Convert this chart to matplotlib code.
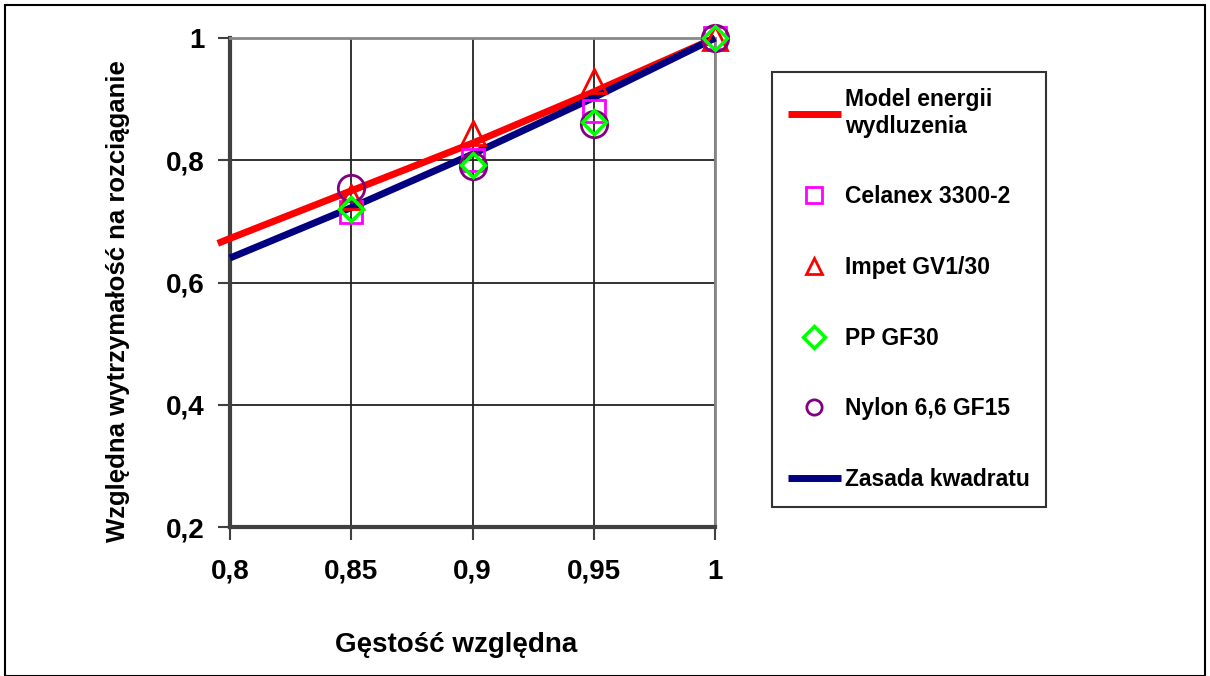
import matplotlib
matplotlib.use("Agg")
import matplotlib.pyplot as plt
from matplotlib.patches import Rectangle

# Data
density = [0.85, 0.9, 0.95, 1.0]
model_x = [0.795, 0.8, 0.85, 0.9, 0.95, 1.0]
model_y = [0.664, 0.672, 0.750, 0.828, 0.912, 1.0]
square_x = [0.8, 0.85, 0.9, 0.95, 1.0]
square_y = [x ** 2 for x in square_x]
celanex = [0.715, 0.800, 0.880, 1.0]
impet = [0.740, 0.845, 0.930, 1.0]
pp_gf30 = [0.720, 0.792, 0.863, 1.0]
nylon = [0.755, 0.790, 0.860, 1.0]

xticks = [0.8, 0.85, 0.9, 0.95, 1.0]
xtick_labels = ["0,8", "0,85", "0,9", "0,95", "1"]
yticks = [0.2, 0.4, 0.6, 0.8, 1.0]
ytick_labels = ["0,2", "0,4", "0,6", "0,8", "1"]

plt.rcParams["font.family"] = ["Liberation Sans", "DejaVu Sans"]
plt.rcParams["font.weight"] = "bold"

fig = plt.figure(figsize=(12.1, 6.76), dpi=100)
fig.patches.append(Rectangle((0.004, 0.0), 0.992, 0.993, transform=fig.transFigure,
                             fill=False, edgecolor="black", linewidth=1.5))

ax = fig.add_axes([0.190, 0.2204, 0.401, 0.7234])

ax.plot(model_x, model_y, color="#ff0000", linewidth=5, solid_capstyle="butt",
        label="Model energii\nwydluzenia", zorder=3, clip_on=False)
ax.plot(density, celanex, linestyle="none", marker="s", markersize=16,
        markerfacecolor="none", markeredgecolor="#ff00ff", markeredgewidth=2,
        label="Celanex 3300-2", zorder=4, clip_on=False)
ax.plot(density, impet, linestyle="none", marker="^", markersize=17,
        markerfacecolor="none", markeredgecolor="#ff0000", markeredgewidth=2,
        label="Impet GV1/30", zorder=4, clip_on=False)
ax.plot(density, pp_gf30, linestyle="none", marker="D", markersize=12,
        markerfacecolor="none", markeredgecolor="#00ff00", markeredgewidth=2.5,
        label="PP GF30", zorder=5, clip_on=False)
ax.plot(density, nylon, linestyle="none", marker="o", markersize=19,
        markerfacecolor="none", markeredgecolor="#800080", markeredgewidth=2,
        label="Nylon 6,6 GF15", zorder=4, clip_on=False)
ax.plot(square_x, square_y, color="#000080", linewidth=5, solid_capstyle="butt",
        label="Zasada kwadratu", zorder=3, clip_on=False)

ax.set_xlim(0.8, 1.0)
ax.set_ylim(0.2, 1.0)
ax.set_xticks(xticks)
ax.set_xticklabels(xtick_labels)
ax.set_yticks(yticks)
ax.set_yticklabels(ytick_labels)
ax.tick_params(axis="both", direction="out", length=9, width=1.5, color="#404040",
               labelsize=20, pad=9)
ax.tick_params(axis="x", pad=14)
ax.grid(True, color="#222222", linewidth=1.3)
ax.set_axisbelow(True)

ax.spines["left"].set_color("#404040")
ax.spines["left"].set_linewidth(3)
ax.spines["bottom"].set_color("#404040")
ax.spines["bottom"].set_linewidth(3)
ax.spines["right"].set_color("#888888")
ax.spines["right"].set_linewidth(2)
ax.spines["top"].set_color("#888888")
ax.spines["top"].set_linewidth(2)

ax.set_xlabel("Gęstość względna", fontsize=20, fontweight="bold", labelpad=34)
ax.set_ylabel("Względna wytrzymałość na rozciąganie", fontsize=18.5,
              fontweight="bold", labelpad=26)
ax.xaxis.label.set_x(0.466)
ax.yaxis.label.set_y(0.462)

leg = ax.legend(loc="upper left", bbox_to_anchor=(0.638, 0.8935),
                bbox_transform=fig.transFigure, frameon=True, fancybox=False,
                edgecolor="black", fontsize=16.5, labelspacing=2.08,
                handlelength=2.3, handletextpad=0.2, borderpad=0.7,
                borderaxespad=0)
leg.get_frame().set_linewidth(1.5)
for h in leg.legend_handles:
    if h.get_marker() not in (None, "None", ""):
        h.set_markersize(11)

fig.savefig("out.png", dpi=100)
